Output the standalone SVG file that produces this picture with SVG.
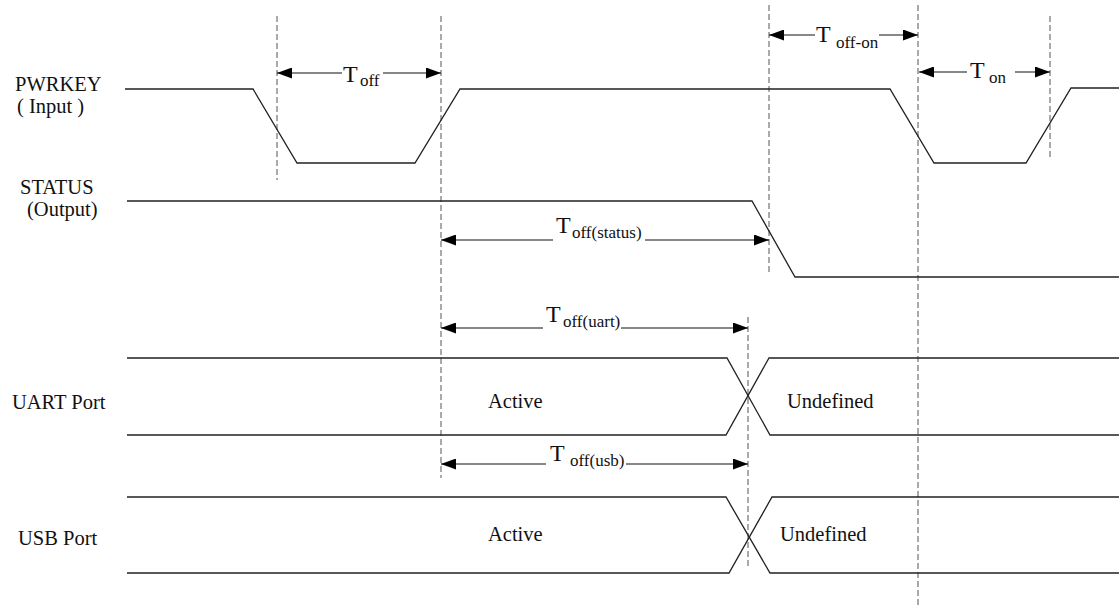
<svg xmlns="http://www.w3.org/2000/svg" width="1119" height="612" viewBox="0 0 1119 612">
  <style>
    .sig { fill: none; stroke: #222; stroke-width: 1.3; }
    .dash { fill: none; stroke: #555; stroke-width: 1; stroke-dasharray: 6 3; }
    .dim { fill: none; stroke: #111; stroke-width: 1.2; marker-end: url(#ah); }
    text { font-family: "Times New Roman", "Liberation Serif", "DejaVu Serif", serif; fill: #111; }
    .lbl { font-size: 20.5px; }
    .T { font-size: 24px; }
    .sub { font-size: 17px; }
  </style>
  <defs>
    <marker id="ah" markerUnits="userSpaceOnUse" markerWidth="15" markerHeight="11" refX="15" refY="5.5" orient="auto">
      <path d="M0,0 L15,5.5 L0,11 z" fill="#000"/>
    </marker>
  </defs>
  <rect width="1119" height="612" fill="#fff"/>

  <g id="guides">
    <line class="dash" x1="277" y1="16" x2="277" y2="180"/>
    <line class="dash" x1="441" y1="16" x2="441" y2="478"/>
    <line class="dash" x1="769" y1="5" x2="769" y2="275"/>
    <line class="dash" x1="918" y1="5" x2="918" y2="607"/>
    <line class="dash" x1="1050" y1="16" x2="1050" y2="160"/>
    <line class="dash" x1="748" y1="317" x2="748" y2="569"/>
  </g>

  <g id="pwrkey">
    <text class="lbl" x="15" y="91">PWRKEY</text>
    <text class="lbl" x="17" y="113">( Input )</text>
    <polyline class="sig" points="125,89 253,89 297,163 415,163 460,89 890,89 934,163 1026,163 1071,88 1119,88"/>
  </g>

  <g id="status">
    <text class="lbl" x="20" y="194">STATUS</text>
    <text class="lbl" x="27" y="216">(Output)</text>
    <polyline class="sig" points="127,201 752,201 795,277 1119,277"/>
  </g>

  <g id="uart">
    <text class="lbl" x="12" y="409">UART Port</text>
    <polyline class="sig" points="127,358 727,358 770,435 1119,435"/>
    <polyline class="sig" points="127,435 726,435 769,358 1119,358"/>
    <text class="lbl" x="488" y="408">Active</text>
    <text class="lbl" x="787" y="408">Undefined</text>
  </g>

  <g id="usb">
    <text class="lbl" x="18" y="545">USB Port</text>
    <polyline class="sig" points="127,497 726,497 770,573 1119,573"/>
    <polyline class="sig" points="127,573 729,573 772,497 1119,497"/>
    <text class="lbl" x="488" y="541">Active</text>
    <text class="lbl" x="780" y="541">Undefined</text>
  </g>

  <g id="connectors">
    <line class="dim" x1="342" y1="73" x2="277" y2="73"/>
    <line class="dim" x1="383" y1="73" x2="441" y2="73"/>
    <line class="dim" x1="815" y1="35" x2="769" y2="35"/>
    <line class="dim" x1="879" y1="35" x2="918" y2="35"/>
    <line class="dim" x1="967" y1="72" x2="919" y2="72"/>
    <line class="dim" x1="1015" y1="72" x2="1050" y2="72"/>
    <line class="dim" x1="553" y1="240" x2="441" y2="240"/>
    <line class="dim" x1="645" y1="240" x2="769" y2="240"/>
    <line class="dim" x1="543" y1="328" x2="441" y2="328"/>
    <line class="dim" x1="621" y1="328" x2="748" y2="328"/>
    <line class="dim" x1="546" y1="464" x2="441" y2="464"/>
    <line class="dim" x1="626" y1="464" x2="748" y2="464"/>
  </g>

  <g id="dimlabels">
    <text class="T" x="343" y="82">T</text>
    <text class="sub" x="360" y="86">off</text>
    <text class="T" x="816" y="42">T</text>
    <text class="sub" x="836" y="48">off-on</text>
    <text class="T" x="970" y="78">T</text>
    <text class="sub" x="989" y="83">on</text>
    <text class="T" x="556" y="233">T</text>
    <text class="sub" x="572" y="238">off(status)</text>
    <text class="T" x="546" y="322">T</text>
    <text class="sub" x="563" y="327">off(uart)</text>
    <text class="T" x="550" y="461">T</text>
    <text class="sub" x="570" y="466">off(usb)</text>
  </g>
</svg>
